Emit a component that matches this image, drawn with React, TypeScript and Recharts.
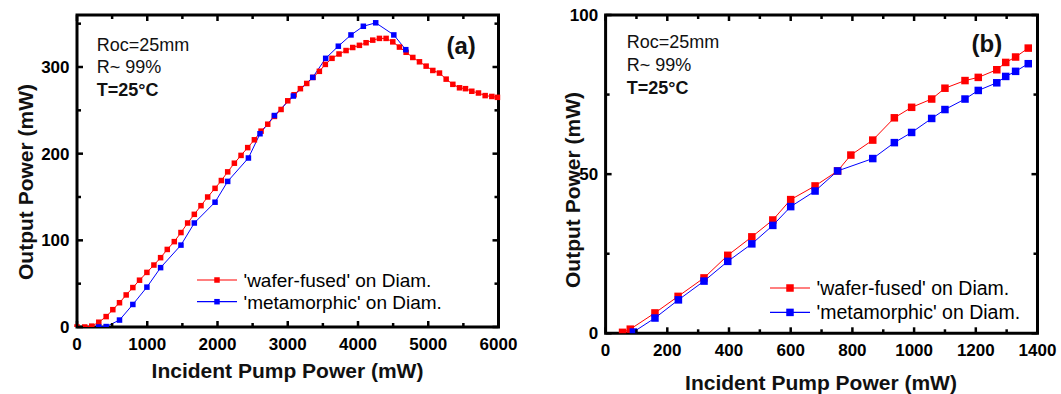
import { LineChart, Line, XAxis, YAxis, ReferenceArea, Legend } from "recharts";

const FONT = "'Liberation Sans', Arial, Helvetica, sans-serif";
const RED = "#ff0000";
const BLUE = "#0000ff";

const seriesNames = ["'wafer-fused' on Diam.", "'metamorphic' on Diam."];

// panel (a): 0-6000 mW pump
const pumpA_wafer = [
  0, 110, 210, 310, 415, 510, 605, 700, 795, 890, 995, 1095, 1190, 1285, 1385, 1480,
  1575, 1670, 1765, 1860, 1965, 2055, 2145, 2240, 2335, 2430, 2525, 2620, 2715, 2810,
  2905, 3000, 3090, 3180, 3270, 3360, 3450, 3535, 3630, 3730, 3830, 3925, 4020, 4115,
  4210, 4305, 4400, 4495, 4590, 4685, 4780, 4875, 4970, 5065, 5160, 5255, 5350, 5445,
  5530, 5620, 5715, 5810, 5905, 5985,
];
const powerA_wafer = [
  0, 0, 1, 5.5, 12, 20, 28, 37, 45.5, 54, 63, 71.5, 80, 89.5, 98.5, 109,
  120, 130, 140, 150, 160, 169, 179, 189, 198, 207, 216, 226, 234, 243,
  251, 261, 268, 275, 281, 288, 295, 303, 310, 315, 319, 322.5, 325, 328,
  331, 333, 333, 329, 323, 317, 311, 306, 301, 296, 293, 286, 280, 276,
  275, 272, 270, 267, 266, 265,
];
const pumpA_meta = [
  310, 415, 605, 795, 995, 1190, 1480, 1670, 1965, 2145, 2440, 2605, 2810, 3080, 3355,
  3540, 3720, 3900, 4076, 4252, 4510, 4680,
];
const powerA_meta = [
  0, 0.5, 8, 26, 46, 68.5, 94.5, 120, 144, 168, 195, 223, 244, 266.5, 288,
  310, 324, 337, 347, 351, 337, 320,
];
const ticksA_x = [0, 500, 1000, 1500, 2000, 2500, 3000, 3500, 4000, 4500, 5000, 5500, 6000];
const ticksA_y = [0, 50, 100, 150, 200, 250, 300, 350];

// panel (b): 0-1400 mW pump
const pumpB_wafer = [
  55, 80, 160, 235, 319, 396, 474, 542, 600, 679, 752, 795, 866, 936, 992, 1057, 1100,
  1165, 1208, 1268, 1297, 1329, 1370,
];
const powerB_wafer = [
  0.3, 1.3, 6.4, 11.6, 17.4, 24.5, 30.3, 35.6, 42, 46.3, 51, 56, 60.7, 67.7, 71, 73.6, 77,
  79.4, 80.4, 82.8, 85.1, 86.8, 89.6,
];
const pumpB_meta = [
  90, 160, 236, 319, 396, 474, 542, 600, 679, 752, 866, 936, 992, 1057, 1100, 1165, 1208,
  1268, 1297, 1329, 1370,
];
const powerB_meta = [
  0.4, 4.8, 10.5, 16.4, 22.6, 28.1, 33.9, 39.8, 44.7, 51, 54.9, 59.9, 63.1, 67.5, 70.3,
  73.6, 76.3, 78.7, 80.7, 82.3, 84.7,
];
const ticksB_x = [0, 100, 200, 300, 400, 500, 600, 700, 800, 900, 1000, 1100, 1200, 1300, 1400];
const ticksB_y = [0, 25, 50, 75, 100];

const toRows = (xs: number[], ys: number[]) => xs.map((x, i) => ({ pump: x, power: ys[i] }));

const square = (size: number, color: string) => (p: any) => (
  <rect
    key={`sq-${p.index}`}
    x={p.cx - size / 2}
    y={p.cy - size / 2}
    width={size}
    height={size}
    fill={color}
  />
);

const AXIS_W = 40;
const AXIS_H = 30;

type PanelProps = {
  left: number;
  width: number;
  height: number;
  plot: { top: number; right: number; bottom: number; left: number };
  xDomain: [number, number];
  yDomain: [number, number];
  xTicks: number[];
  yTicks: number[];
  xStep: number;
  yStep: number;
  wafer: { pump: number; power: number }[];
  meta: { pump: number; power: number }[];
  marker: number;
  legend: { left: number; top: number; gap: number; font: number };
};

function Panel(props: PanelProps) {
  const { left, width, height, plot, xDomain, yDomain, xTicks, yTicks, xStep, yStep } = props;
  // plot = outer edges of the plotting area, in chart pixels
  const margin = {
    top: plot.top,
    right: width - plot.right,
    bottom: height - plot.bottom - AXIS_H,
    left: plot.left - AXIS_W,
  };

  const xTick = (p: any) => {
    const v = p.payload.value;
    const major = v % xStep === 0;
    const len = major ? 6 : 4;
    return (
      <g>
        <line x1={p.x} x2={p.x} y1={p.y} y2={p.y - len} stroke="#000" strokeWidth={2.5} />
        <line x1={p.x} x2={p.x} y1={plot.top} y2={plot.top + len} stroke="#000" strokeWidth={2.5} />
        {major && (
          <text x={p.x} y={p.y + 23} textAnchor="middle" fontFamily={FONT} fontSize={17} fontWeight="bold" fill="#000">
            {v}
          </text>
        )}
      </g>
    );
  };

  const yTick = (p: any) => {
    const v = p.payload.value;
    const major = v % yStep === 0;
    const len = major ? 6 : 4;
    return (
      <g>
        <line x1={p.x} x2={p.x + len} y1={p.y} y2={p.y} stroke="#000" strokeWidth={2.5} />
        <line x1={plot.right} x2={plot.right - len} y1={p.y} y2={p.y} stroke="#000" strokeWidth={2.5} />
        {major && (
          <text x={p.x - 7.5} y={p.y + 6} textAnchor="end" fontFamily={FONT} fontSize={17} fontWeight="bold" fill="#000">
            {v}
          </text>
        )}
      </g>
    );
  };

  const lg = props.legend;
  const legendContent = (p: any) => {
    const items = [...(p.payload || [])].sort(
      (a: any, b: any) => seriesNames.indexOf(a.value) - seriesNames.indexOf(b.value)
    );
    return (
      <svg width={260} height={lg.gap * 2 + 10} style={{ overflow: "visible" }}>
        {items.map((e: any, i: number) => {
          const cy = 8 + i * lg.gap;
          return (
            <g key={e.value}>
              <line x1={0} x2={40} y1={cy} y2={cy} stroke={e.color} strokeWidth={1.2} />
              <rect x={20 - props.marker / 2} y={cy - props.marker / 2} width={props.marker} height={props.marker} fill={e.color} />
              <text x={46.5} y={cy + 6.8} fontFamily={FONT} fontSize={lg.font} fill="#000">
                {e.value}
              </text>
            </g>
          );
        })}
      </svg>
    );
  };

  return (
    <div style={{ position: "absolute", left, top: 0 }}>
      <LineChart width={width} height={height} margin={margin}>
        <ReferenceArea
          x1={xDomain[0]}
          x2={xDomain[1]}
          y1={yDomain[0]}
          y2={yDomain[1]}
          fill="none"
          stroke="#000"
          strokeWidth={3}
          ifOverflow="visible"
        />
        <XAxis
          type="number"
          dataKey="pump"
          domain={xDomain}
          ticks={xTicks}
          interval={0}
          height={AXIS_H}
          tickSize={0}
          tickMargin={0}
          axisLine={false}
          tickLine={false}
          tick={xTick}
        />
        <YAxis
          type="number"
          domain={yDomain}
          ticks={yTicks}
          interval={0}
          width={AXIS_W}
          tickSize={0}
          tickMargin={0}
          axisLine={false}
          tickLine={false}
          tick={yTick}
          allowDataOverflow
        />
        <Legend
          layout="vertical"
          align="center"
          verticalAlign="middle"
          wrapperStyle={{ left: lg.left, top: lg.top, width: 260, height: lg.gap * 2 + 10 }}
          content={legendContent}
        />
        <Line
          name={seriesNames[0]}
          data={props.wafer}
          dataKey="power"
          type="linear"
          stroke={RED}
          strokeWidth={1}
          dot={square(props.marker, RED)}
          activeDot={false}
          isAnimationActive={false}
        />
        <Line
          name={seriesNames[1]}
          data={props.meta}
          dataKey="power"
          type="linear"
          stroke={BLUE}
          strokeWidth={1}
          dot={square(props.marker, BLUE)}
          activeDot={false}
          isAnimationActive={false}
        />
      </LineChart>
    </div>
  );
}

const txt = { fontFamily: FONT, fill: "#111" } as const;

export default function App() {
  return (
    <div style={{ position: "absolute", left: 0, top: 0, width: 1061, height: 394, background: "#fff", overflow: "hidden" }}>
      <Panel
        left={0}
        width={530}
        height={394}
        plot={{ top: 15, right: 498.5, bottom: 327, left: 77 }}
        xDomain={[0, 6000]}
        yDomain={[0, 360]}
        xTicks={ticksA_x}
        yTicks={ticksA_y}
        xStep={1000}
        yStep={100}
        wafer={toRows(pumpA_wafer, powerA_wafer)}
        meta={toRows(pumpA_meta, powerA_meta)}
        marker={5.5}
        legend={{ left: 196.5, top: 272, gap: 21.7, font: 19 }}
      />
      <Panel
        left={530}
        width={531}
        height={394}
        plot={{ top: 15, right: 507.5, bottom: 333.3, left: 75.6 }}
        xDomain={[0, 1400]}
        yDomain={[0, 100]}
        xTicks={ticksB_x}
        yTicks={ticksB_y}
        xStep={200}
        yStep={50}
        wafer={toRows(pumpB_wafer, powerB_wafer)}
        meta={toRows(pumpB_meta, powerB_meta)}
        marker={7.5}
        legend={{ left: 240, top: 280.3, gap: 24.4, font: 19.5 }}
      />
      <svg width={1061} height={394} style={{ position: "absolute", left: 0, top: 0, pointerEvents: "none" }}>
        {/* panel (a) */}
        <text {...txt} x={96.7} y={50.5} fontSize={18}>Roc=25mm</text>
        <text {...txt} x={96.7} y={73} fontSize={18}>R~ 99%</text>
        <text {...txt} x={96.7} y={95.5} fontSize={18} fontWeight="bold">T=25°C</text>
        <text {...txt} x={446.5} y={54} fontSize={24} fontWeight="bold">(a)</text>
        <text {...txt} x={287.5} y={378} fontSize={21} fontWeight="bold" textAnchor="middle">
          Incident Pump Power (mW)
        </text>
        <text {...txt} x={0} y={0} fontSize={21} fontWeight="bold" textAnchor="middle" transform="translate(32.5,182) rotate(-90)">
          Output Power (mW)
        </text>
        {/* panel (b) */}
        <text {...txt} x={626.7} y={48} fontSize={18}>Roc=25mm</text>
        <text {...txt} x={626.7} y={70.7} fontSize={18}>R~ 99%</text>
        <text {...txt} x={626.7} y={94} fontSize={18} fontWeight="bold">T=25°C</text>
        <text {...txt} x={971.5} y={51.5} fontSize={24} fontWeight="bold">(b)</text>
        <text {...txt} x={821} y={390} fontSize={21} fontWeight="bold" textAnchor="middle">
          Incident Pump Power (mW)
        </text>
        <text {...txt} x={0} y={0} fontSize={21} fontWeight="bold" textAnchor="middle" transform="translate(580,190) rotate(-90)">
          Output Power (mW)
        </text>
      </svg>
    </div>
  );
}
